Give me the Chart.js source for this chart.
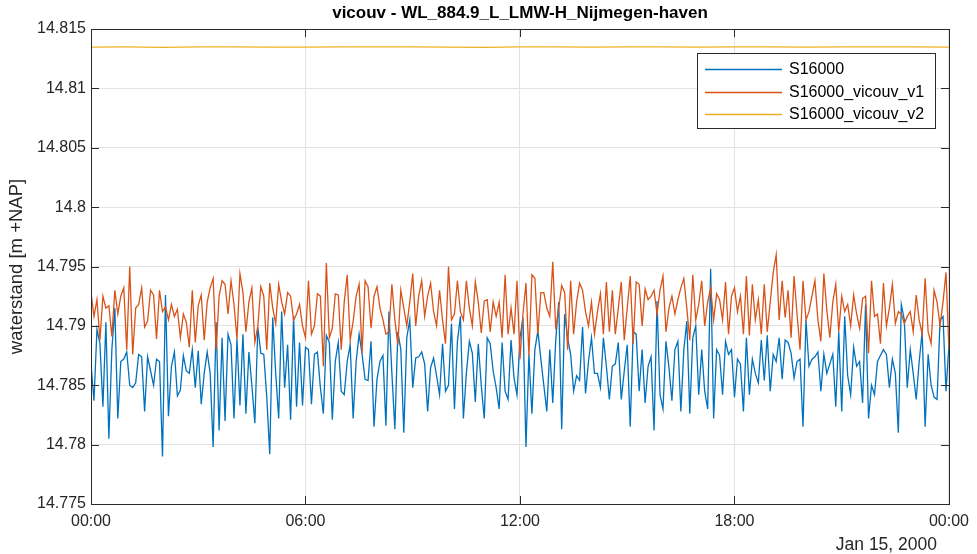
<!DOCTYPE html>
<html>
<head>
<meta charset="utf-8">
<script src="https://cdn.jsdelivr.net/npm/chart.js@4.4.1/dist/chart.umd.min.js"></script>
<style>
html,body{margin:0;padding:0;background:#fff;}
#wrap{position:relative;width:977px;height:554px;}
</style>
</head>
<body>
<div id="wrap"><canvas id="c" width="977" height="554"></canvas></div>
<script>
// ---- data (5-minute samples, 00:00 -> 24:00) ----
const chartTitle = 'vicouv - WL_884.9_L_LMW-H_Nijmegen-haven';
const yAxisTitle = 'waterstand [m +NAP]';
const dateLabel = 'Jan 15, 2000';
const seriesNames = ['S16000', 'S16000_vicouv_v1', 'S16000_vicouv_v2'];
const xTickMinutes = [0, 360, 720, 1080, 1440];
const xTickLabels = ['00:00', '06:00', '12:00', '18:00', '00:00'];
const yTickValues = [14.775, 14.78, 14.785, 14.79, 14.795, 14.8, 14.805, 14.81, 14.815];
const stepMinutes = 5;
const hourlyStepMinutes = 60;

const s16000 = [
14.7868,14.7837,14.7897,14.7885,14.7832,14.7903,14.7805,14.7880,14.7915,14.7822,
14.7870,14.7872,14.7878,14.7850,14.7848,14.7852,14.7876,14.7874,14.7828,14.7874,
14.7862,14.7850,14.7872,14.7870,14.7790,14.7926,14.7824,14.7866,14.7878,14.7841,
14.7846,14.7875,14.7862,14.7860,14.7880,14.7848,14.7879,14.7834,14.7860,14.7878,
14.7860,14.7798,14.7903,14.7812,14.7890,14.7820,14.7893,14.7884,14.7822,14.7889,
14.7833,14.7893,14.7826,14.7878,14.7850,14.7818,14.7899,14.7877,14.7876,
14.7840,14.7792,14.7907,14.7860,14.7822,14.7912,14.7848,14.7884,14.7821,14.7908,
14.7832,14.7886,14.7833,14.7882,14.7880,14.7834,14.7876,14.7878,14.7848,14.7826,
14.7892,14.7886,14.7821,14.7870,14.7886,14.7845,14.7842,14.7870,14.7884,14.7822,
14.7870,14.7893,14.7876,14.7855,14.7854,14.7887,14.7815,14.7855,14.7870,14.7875,
14.7816,14.7912,14.7860,14.7813,14.7895,14.7880,14.7810,14.7890,14.7905,14.7848,
14.7873,14.7874,14.7878,14.7868,14.7828,14.7865,14.7873,14.7858,
14.7842,14.7885,14.7845,14.7850,14.7902,14.7830,14.7887,14.7908,14.7822,14.7860,
14.7887,14.7877,14.7836,14.7885,14.7850,14.7822,14.7890,14.7885,14.7862,14.7848,
14.7830,14.7886,14.7845,14.7838,14.7888,14.7856,14.7842,14.7890,14.7907,14.7798,
14.7876,14.7826,14.7880,14.7896,14.7872,14.7850,14.7828,14.7880,14.7835,14.7888,
14.7920,14.7813,14.7910,14.7890,14.7876,14.7845,14.7858,14.7854,14.7899,14.7843,
14.7870,14.7890,14.7860,14.7860,14.7848,14.7890,14.7866,14.7838,14.7866,
14.7868,14.7886,14.7838,14.7862,14.7884,14.7815,14.7895,14.7893,14.7845,14.7880,
14.7835,14.7866,14.7874,14.7812,14.7921,14.7842,14.7830,14.7887,14.7865,14.7837,
14.7880,14.7887,14.7828,14.7880,14.7904,14.7826,14.7890,14.7900,14.7842,14.7880,
14.7845,14.7830,14.7948,14.7822,14.7880,14.7875,14.7842,14.7887,14.7876,14.7880,
14.7840,14.7872,14.7868,14.7828,14.7890,14.7842,14.7872,14.7860,14.7852,14.7888,
14.7854,14.7892,14.7845,14.7876,14.7870,14.7890,14.7855,14.7888,14.7886,
14.7877,14.7856,14.7870,14.7872,14.7815,14.7905,14.7866,14.7872,14.7874,14.7878,
14.7845,14.7876,14.7860,14.7868,14.7876,14.7832,14.7895,14.7828,14.7908,14.7858,
14.7842,14.7882,14.7866,14.7870,14.7835,14.7918,14.7822,14.7850,14.7842,14.7870,
14.7875,14.7880,14.7876,14.7848,14.7872,14.7860,14.7810,14.7918,14.7905,14.7848,
14.7880,14.7860,14.7838,14.7870,14.7895,14.7815,14.7876,14.7850,14.7840,14.7838,
14.7905,14.7908,14.7845,14.7884
];

const s16000_v1 = [
14.7928,14.7908,14.7922,14.7888,14.7925,14.7915,14.7917,14.7891,14.7930,14.7910,
14.7925,14.7932,14.7880,14.7950,14.7876,14.7915,14.7918,14.7932,14.7899,14.7904,
14.7930,14.7926,14.7889,14.7930,14.7912,14.7916,14.7905,14.7918,14.7908,14.7914,
14.7890,14.7910,14.7903,14.7882,14.7930,14.7886,14.7917,14.7926,14.7888,14.7920,
14.7932,14.7940,14.7880,14.7925,14.7938,14.7935,14.7910,14.7938,14.7918,14.7889,
14.7944,14.7928,14.7895,14.7920,14.7932,14.7886,14.7900,14.7933,14.7925,
14.7880,14.7936,14.7915,14.7902,14.7935,14.7920,14.7910,14.7928,14.7925,14.7905,
14.7910,14.7918,14.7900,14.7890,14.7938,14.7893,14.7900,14.7927,14.7925,14.7866,
14.7953,14.7890,14.7898,14.7927,14.7926,14.7880,14.7920,14.7943,14.7888,14.7904,
14.7925,14.7935,14.7877,14.7938,14.7933,14.7898,14.7925,14.7933,14.7915,14.7905,
14.7893,14.7895,14.7935,14.7905,14.7884,14.7930,14.7915,14.7900,14.7920,14.7944,
14.7900,14.7925,14.7938,14.7908,14.7925,14.7936,14.7912,14.7900,
14.7930,14.7905,14.7885,14.7950,14.7905,14.7910,14.7938,14.7912,14.7905,14.7938,
14.7915,14.7900,14.7937,14.7920,14.7894,14.7921,14.7922,14.7895,14.7920,14.7908,
14.7920,14.7890,14.7943,14.7893,14.7915,14.7893,14.7938,14.7872,14.7910,14.7936,
14.7875,14.7943,14.7940,14.7893,14.7928,14.7928,14.7915,14.7908,14.7954,14.7897,
14.7915,14.7934,14.7928,14.7880,14.7938,14.7893,14.7920,14.7936,14.7930,14.7912,
14.7900,14.7920,14.7893,14.7912,14.7927,14.7893,14.7937,14.7895,14.7930,
14.7893,14.7915,14.7937,14.7888,14.7915,14.7942,14.7885,14.7937,14.7935,14.7900,
14.7931,14.7922,14.7925,14.7930,14.7910,14.7930,14.7942,14.7895,14.7915,14.7925,
14.7910,14.7922,14.7932,14.7940,14.7915,14.7888,14.7943,14.7905,14.7918,14.7938,
14.7900,14.7920,14.7932,14.7905,14.7927,14.7922,14.7905,14.7937,14.7893,14.7925,
14.7932,14.7912,14.7925,14.7893,14.7942,14.7892,14.7935,14.7905,14.7922,14.7893,
14.7935,14.7895,14.7920,14.7945,14.7960,14.7905,14.7938,14.7907,14.7930,
14.7890,14.7942,14.7910,14.7880,14.7938,14.7905,14.7912,14.7925,14.7938,14.7905,
14.7887,14.7944,14.7913,14.7890,14.7920,14.7935,14.7895,14.7925,14.7912,14.7918,
14.7900,14.7926,14.7910,14.7898,14.7923,14.7925,14.7877,14.7938,14.7908,14.7910,
14.7885,14.7936,14.7900,14.7915,14.7935,14.7902,14.7912,14.7910,14.7902,14.7908,
14.7912,14.7895,14.7926,14.7905,14.7893,14.7940,14.7895,14.7885,14.7930,14.7920,
14.7900,14.7920,14.7945,14.7880
];

// hourly samples
const s16000_v2 = [
14.81348,14.81350,14.81346,14.81349,14.81350,14.81348,14.81347,14.81349,14.81350,14.81349,
14.81348,14.81346,14.81349,14.81350,14.81348,14.81349,14.81350,14.81347,14.81349,14.81350,
14.81348,14.81349,14.81350,14.81349,14.81348
];

const seriesColors = ['#0072BD', '#D95319', '#EDB120'];
const FONT = '"Liberation Sans", Arial, Helvetica, sans-serif';
const TEXT = '#262626';

function toPoints(vals, step) { return vals.map((v, i) => ({ x: i * step, y: v })); }

const matlabAxes = {
  id: 'matlabAxes',
  afterDraw(chart) {
    const ctx = chart.ctx;
    const { left, right, top, bottom } = chart.chartArea;
    const xs = chart.scales.x, ys = chart.scales.y;
    ctx.save();
    // box
    ctx.strokeStyle = '#2b2b2b';
    ctx.lineWidth = 1;
    ctx.strokeRect(Math.round(left) + 0.5, Math.round(top) + 0.5, Math.round(right - left), Math.round(bottom - top));
    // inward ticks
    const tl = 8;
    ctx.beginPath();
    xs.ticks.forEach(t => {
      const px = Math.round(xs.getPixelForValue(t.value)) + 0.5;
      ctx.moveTo(px, bottom); ctx.lineTo(px, bottom - tl);
      ctx.moveTo(px, top); ctx.lineTo(px, top + tl);
    });
    ys.ticks.forEach(t => {
      const py = Math.round(ys.getPixelForValue(t.value)) + 0.5;
      ctx.moveTo(left, py); ctx.lineTo(left + tl, py);
      ctx.moveTo(right, py); ctx.lineTo(right - tl, py);
    });
    ctx.stroke();

    // title
    ctx.fillStyle = '#000';
    ctx.font = 'bold 17px ' + FONT;
    ctx.textAlign = 'center';
    ctx.textBaseline = 'middle';
    ctx.fillText(chartTitle, (left + right) / 2, 13);

    // y axis title
    ctx.save();
    ctx.translate(17, (top + bottom) / 2);
    ctx.rotate(-Math.PI / 2);
    ctx.font = '18.5px ' + FONT;
    ctx.fillStyle = TEXT;
    ctx.fillText(yAxisTitle, 0, 0);
    ctx.restore();

    // date label
    ctx.font = '17.5px ' + FONT;
    ctx.fillStyle = TEXT;
    ctx.textAlign = 'right';
    ctx.fillText(dateLabel, 937, 545);

    // legend
    const lx = 697, ly = 53, lw = 238, lh = 75;
    ctx.fillStyle = '#fff';
    ctx.fillRect(lx, ly, lw, lh);
    ctx.strokeStyle = '#2b2b2b';
    ctx.lineWidth = 1;
    ctx.strokeRect(lx + 0.5, ly + 0.5, lw, lh);
    ctx.font = '16px ' + FONT;
    ctx.textAlign = 'left';
    chart.data.datasets.forEach((ds, i) => {
      const yy = 69 + i * 22.5;
      ctx.strokeStyle = ds.borderColor;
      ctx.lineWidth = 1.3;
      ctx.beginPath();
      ctx.moveTo(705, Math.round(yy) + 0.5);
      ctx.lineTo(782, Math.round(yy) + 0.5);
      ctx.stroke();
      ctx.fillStyle = '#000';
      ctx.fillText(ds.label, 789, yy + 1);
    });
    ctx.restore();
  }
};

new Chart(document.getElementById('c'), {
  type: 'line',
  data: {
    datasets: [
      { label: seriesNames[0], data: toPoints(s16000, stepMinutes), borderColor: seriesColors[0], order: 2 },
      { label: seriesNames[1], data: toPoints(s16000_v1, stepMinutes), borderColor: seriesColors[1], order: 1 },
      { label: seriesNames[2], data: toPoints(s16000_v2, hourlyStepMinutes), borderColor: seriesColors[2], order: 0 }
    ]
  },
  options: {
    responsive: false,
    animation: false,
    events: [],
    layout: { padding: { left: 0, right: 26, top: 29, bottom: 0 } },
    elements: {
      line: { borderWidth: 1.3, tension: 0, fill: false },
      point: { radius: 0 }
    },
    plugins: { legend: { display: false }, tooltip: { enabled: false }, title: { display: false } },
    scales: {
      x: {
        type: 'linear',
        min: 0, max: 1440,
        afterBuildTicks: s => { s.ticks = xTickMinutes.map(v => ({ value: v })); },
        afterFit: s => { s.height = 50; },
        ticks: {
          autoSkip: false, maxRotation: 0, padding: 8,
          font: { family: FONT, size: 16 }, color: TEXT,
          callback: (v, i) => xTickLabels[i]
        },
        grid: { color: '#e3e3e3', lineWidth: 1, drawTicks: false },
        border: { display: false }
      },
      y: {
        type: 'linear',
        min: 14.775, max: 14.815,
        afterBuildTicks: s => { s.ticks = yTickValues.map(v => ({ value: v })); },
        afterFit: s => { s.width = 91; },
        ticks: {
          autoSkip: false, padding: 5,
          font: { family: FONT, size: 16 }, color: TEXT,
          callback: v => String(Number(v.toFixed(3)))
        },
        grid: { color: '#e3e3e3', lineWidth: 1, drawTicks: false },
        border: { display: false }
      }
    }
  },
  plugins: [matlabAxes]
});
</script>
</body>
</html>
